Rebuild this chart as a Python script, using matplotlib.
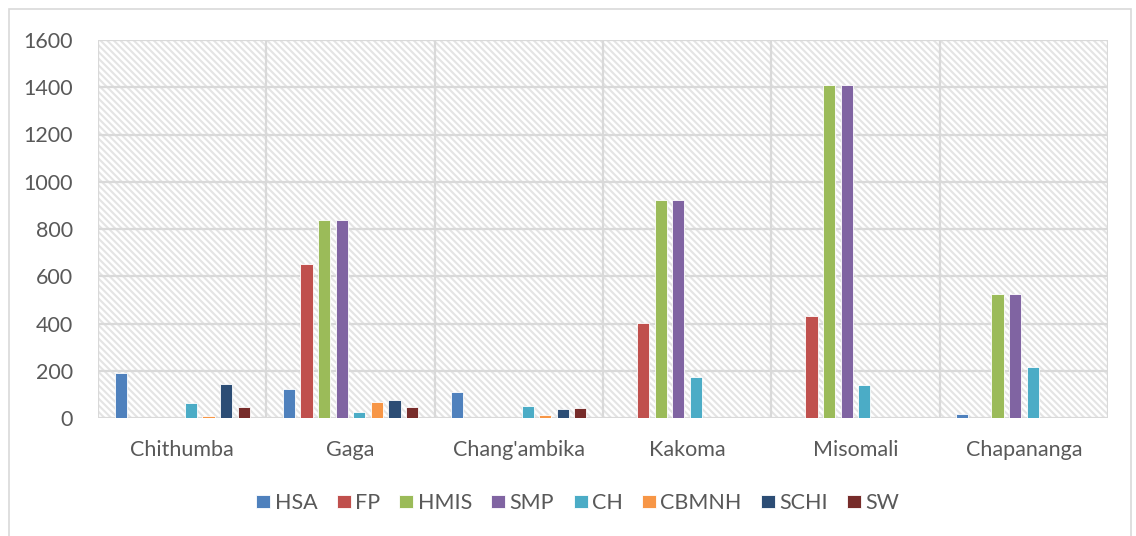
import numpy as np
import matplotlib
matplotlib.use("Agg")
import matplotlib.pyplot as plt
from matplotlib.patches import Rectangle

plt.rcParams['font.family'] = ['Lato', 'DejaVu Sans']
plt.rcParams['hatch.linewidth'] = 1.5
plt.rcParams['hatch.color'] = '#e4e4e4'

categories = ["Chithumba", "Gaga", "Chang'ambika", "Kakoma", "Misomali", "Chapananga"]
series_names = ["HSA", "FP", "HMIS", "SMP", "CH", "CBMNH", "SCHI", "SW"]
colors = ["#4F81BD", "#C0504D", "#9BBB59", "#8064A2", "#4BACC6", "#F79646", "#2C4D75", "#772C2A"]

HSA   = [190, 123, 110, 0, 0, 17]
FP    = [0, 652, 0, 402, 430, 0]
HMIS  = [0, 840, 0, 922, 1410, 525]
SMP   = [0, 840, 0, 922, 1410, 525]
CH    = [63, 25, 50, 173, 140, 215]
CBMNH = [10, 68, 12, 0, 0, 0]
SCHI  = [145, 76, 38, 0, 0, 0]
SW    = [47, 47, 42, 0, 0, 0]
series = [HSA, FP, HMIS, SMP, CH, CBMNH, SCHI, SW]

yticks = [0, 200, 400, 600, 800, 1000, 1200, 1400, 1600]

fig = plt.figure(figsize=(11.36, 5.36), dpi=100)
fig.patch.set_facecolor('white')

# chart-area border
fig.add_artist(Rectangle((9 / 1136, -0.01), 1122 / 1136, 1 - 9 / 536 + 0.01,
                         transform=fig.transFigure, fill=False,
                         edgecolor='#d9d9d9', linewidth=1.2))

ax = fig.add_axes([98 / 1136, 1 - 418 / 536, 1010 / 1136, 378 / 536])
ax.set_xlim(-0.5, len(categories) - 0.5)
ax.set_ylim(0, 1600)

# patterned plot area background
ax.add_patch(Rectangle((0, 0), 1, 1, transform=ax.transAxes, facecolor='white',
                       edgecolor='#e4e4e4', hatch='\\\\\\\\\\', linewidth=0,
                       zorder=0))

# gridlines
for y in yticks:
    ax.axhline(y, color='#d9d9d9', linewidth=1.6, zorder=1)
for b in np.arange(-0.5, len(categories) + 0.5, 1):
    ax.axvline(b, color='#d9d9d9', linewidth=1.6, zorder=1)

x = np.arange(len(categories))
slot = 0.1045
width = 0.072
n = len(series)
for i, (name, vals, c) in enumerate(zip(series_names, series, colors)):
    offs = (i - (n - 1) / 2) * slot
    ax.bar(x + offs, vals, width=width, color=c, edgecolor='white',
           linewidth=0.6, label=name, zorder=3)

for s in ax.spines.values():
    s.set_visible(False)

ax.set_yticks(yticks)
ax.set_yticklabels([str(v) for v in yticks])
ax.set_xticks(x)
ax.set_xticklabels(categories)
ax.tick_params(axis='both', length=0, labelsize=15.5, colors='#595959')
ax.tick_params(axis='y', pad=18)
ax.tick_params(axis='x', pad=16)

handles, labels = ax.get_legend_handles_labels()
leg = fig.legend(handles, labels, loc='center', bbox_to_anchor=(578 / 1136, 1 - 503 / 536),
                 ncol=8, frameon=False, fontsize=15.5, handlelength=0.65,
                 handleheight=0.6, handletextpad=0.2, columnspacing=0.9)
for t in leg.get_texts():
    t.set_color('#595959')

fig.savefig('out.png', dpi=100)
